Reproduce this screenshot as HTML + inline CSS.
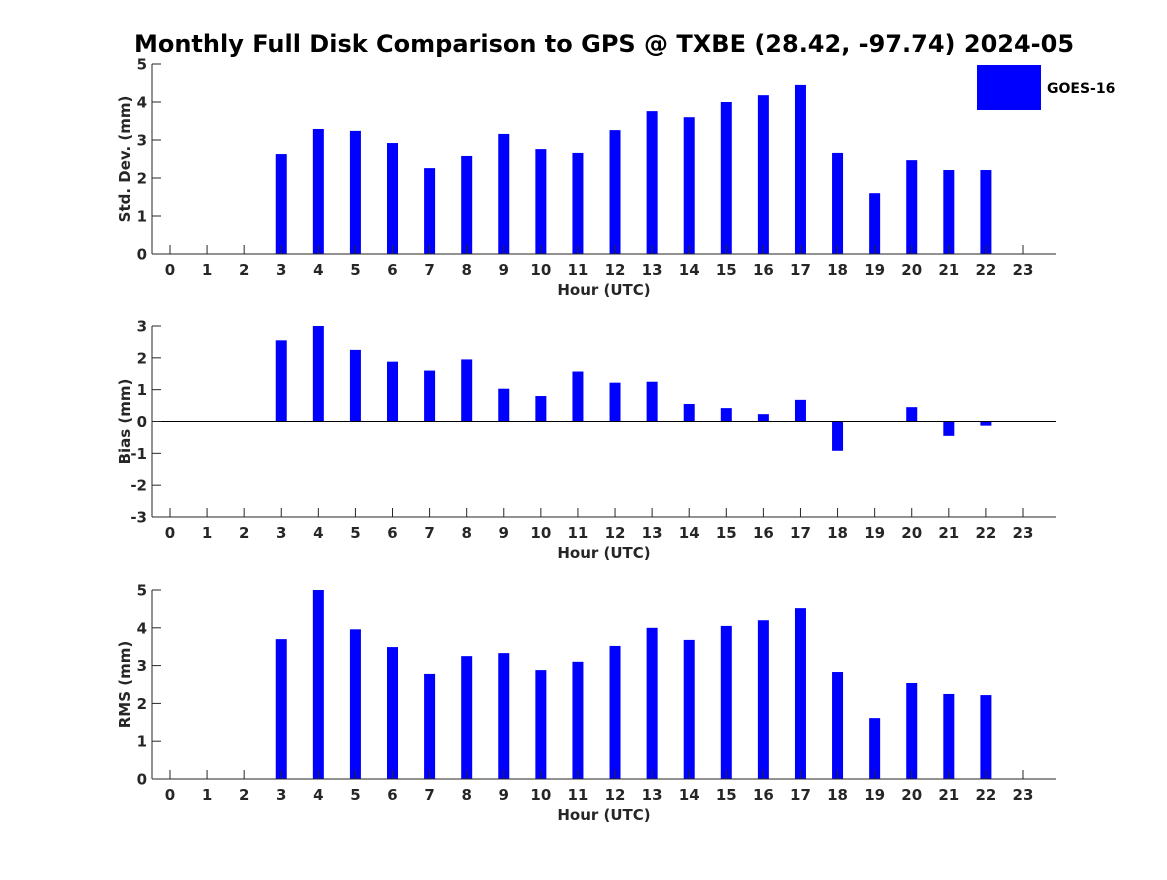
<!DOCTYPE html>
<html><head><meta charset="utf-8"><style>
body{margin:0;background:#fff;}
svg text{font-family:"DejaVu Sans","Liberation Sans",sans-serif;font-weight:bold;fill:#262626;}
</style></head><body>
<svg id="chart" width="1167" height="875" viewBox="0 0 1167 875" xmlns="http://www.w3.org/2000/svg">
<rect width="1167" height="875" fill="#fff"/>
<text x="604" y="52" text-anchor="middle" font-size="24" style="fill:#000">Monthly Full Disk Comparison to GPS @ TXBE (28.42, -97.74) 2024-05</text>
<rect x="977" y="65" width="64" height="45" fill="#0000ff"/>
<text x="1047" y="93" font-size="14" style="fill:#000">GOES-16</text>
<g id="plots"></g>
</svg>
<script>
const hours = [0,1,2,3,4,5,6,7,8,9,10,11,12,13,14,15,16,17,18,19,20,21,22,23];
const stdValues = [null,null,null,2.63,3.29,3.24,2.92,2.26,2.58,3.16,2.76,2.66,3.26,3.76,3.6,4.0,4.18,4.45,2.66,1.6,2.47,2.21,2.21,null];
const biasValues = [null,null,null,2.55,3.0,2.25,1.88,1.6,1.95,1.03,0.8,1.57,1.22,1.25,0.55,0.42,0.23,0.68,-0.92,null,0.45,-0.45,-0.13,null];
const rmsValues = [null,null,null,3.7,5.0,3.96,3.49,2.78,3.25,3.33,2.88,3.1,3.52,4.0,3.68,4.05,4.2,4.52,2.83,1.61,2.54,2.25,2.22,null];
const stdTicks = [0,1,2,3,4,5];
const biasTicks = [-3,-2,-1,0,1,2,3];
const rmsTicks = [0,1,2,3,4,5];

const NS = 'http://www.w3.org/2000/svg';
const g = document.getElementById('plots');
const X0 = 152, X1 = 1056, XMIN = -0.485, XMAX = 23.89;
function xs(h){ return X0 + (h - XMIN) / (XMAX - XMIN) * (X1 - X0); }
function mk(tag, attrs){ const e = document.createElementNS(NS, tag); for (const k in attrs) e.setAttribute(k, attrs[k]); g.appendChild(e); return e; }

function panel(key, values, ticks, ymin, ymax, top, bottom, ylabel){
  const ys = v => bottom - (v - ymin) / (ymax - ymin) * (bottom - top);
  values.forEach((v, i) => {
    if (v === null) return;
    const y0 = ys(0), y1 = ys(v);
    const r = mk('rect', {x: xs(hours[i]) - 5.5, y: Math.min(y0, y1), width: 11, height: Math.abs(y1 - y0), fill: '#0000ff'});
    
    
  });
  const ax = mk('line', {x1: X0, y1: top, x2: X0, y2: bottom, stroke: '#262626', 'stroke-width': 1});
  
  
  const bx = mk('line', {x1: X0, y1: bottom, x2: X1, y2: bottom, stroke: '#262626', 'stroke-width': 1});
  
  
  if (ymin < 0) {
    const z = mk('line', {x1: X0, y1: ys(0), x2: X1, y2: ys(0), stroke: '#000', 'stroke-width': 1});
    
    
  }
  ticks.forEach(t => {
    mk('line', {x1: X0, y1: ys(t), x2: X0 + 9, y2: ys(t), stroke: '#262626'});
    const tx = mk('text', {x: X0 - 5, y: ys(t) + 5.5, 'text-anchor': 'end', 'font-size': 15});
    tx.textContent = t;
    
    
  });
  hours.forEach(h => {
    mk('line', {x1: xs(h), y1: bottom, x2: xs(h), y2: bottom - 9, stroke: '#262626'});
    const tx = mk('text', {x: xs(h), y: bottom + 21, 'text-anchor': 'middle', 'font-size': 15});
    tx.textContent = h;
    
    
  });
  const xl = mk('text', {x: 604, y: bottom + 41, 'text-anchor': 'middle', 'font-size': 15});
  xl.textContent = 'Hour (UTC)';
  
  
  const cy = (top + bottom) / 2;
  const yl = mk('text', {x: 130, y: cy, 'text-anchor': 'middle', 'font-size': 15, transform: 'rotate(-90 130 ' + cy + ')'});
  yl.textContent = ylabel;
  
  
}
panel('std', stdValues, stdTicks, 0, 5, 64, 254, 'Std. Dev. (mm)');
panel('bias', biasValues, biasTicks, -3, 3, 326, 517, 'Bias (mm)');
panel('rms', rmsValues, rmsTicks, 0, 5, 590, 779, 'RMS (mm)');
</script>
</body></html>
